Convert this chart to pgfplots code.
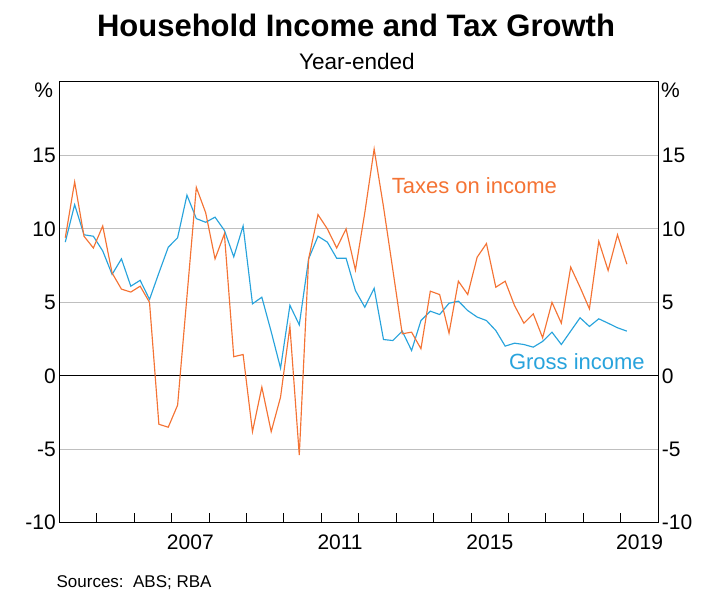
\documentclass[border=0pt]{standalone}
\usepackage{pgfplots}
\pgfplotsset{compat=1.18}
\usepackage{pgfplotstable}
\usepackage{fontspec}
\setmainfont{Liberation Sans}
\definecolor{rbaorange}{RGB}{244,115,52}
\definecolor{rbablue}{RGB}{40,163,220}
\newcommand{\tfont}{\fontsize{21}{21}\selectfont}

\pgfplotstableread{
x gross tax
2004.16 9.1 9.4
2004.41 11.65 13.2
2004.66 9.6 9.5
2004.91 9.5 8.7
2005.16 8.5 10.2
2005.41 6.9 7.0
2005.66 7.96 5.9
2005.91 6.1 5.7
2006.16 6.5 6.1
2006.41 5.2 5.0
2006.66 7.0 -3.3
2006.91 8.75 -3.5
2007.16 9.4 -2.0
2007.41 12.3 5.4
2007.66 10.7 12.83
2007.91 10.45 11.1
2008.16 10.8 7.96
2008.41 9.9 9.66
2008.66 8.1 1.3
2008.91 10.2 1.45
2009.16 4.9 -3.8
2009.41 5.35 -0.77
2009.66 3.0 -3.8
2009.91 0.52 -1.45
2010.16 4.8 3.36
2010.41 3.47 -5.4
2010.66 7.96 7.96
2010.91 9.5 10.97
2011.16 9.1 10.0
2011.41 8.0 8.7
2011.66 8.0 10.0
2011.91 5.8 7.2
2012.16 4.67 11.1
2012.41 5.96 15.44
2012.66 2.47 11.5
2012.91 2.4 7.2
2013.16 3.04 2.86
2013.41 1.72 2.97
2013.66 3.76 1.84
2013.91 4.4 5.76
2014.16 4.17 5.53
2014.41 4.94 2.9
2014.66 5.08 6.44
2014.91 4.44 5.53
2015.16 4.0 8.07
2015.41 3.76 9.0
2015.66 3.08 6.03
2015.91 2.02 6.44
2016.16 2.22 4.78
2016.41 2.13 3.58
2016.66 1.95 4.22
2016.91 2.34 2.59
2017.16 2.97 5.0
2017.41 2.13 3.58
2017.66 3.04 7.4
2017.91 3.95 6.03
2018.16 3.36 4.56
2018.41 3.88 9.16
2018.66 3.58 7.17
2018.91 3.27 9.6
2019.16 3.04 7.6
}\data

\begin{document}
\begin{tikzpicture}[x=1pt,y=1pt]
\path[use as bounding box] (0,0) rectangle (707,605);
\node[anchor=base, inner sep=0, font=\fontsize{31}{31}\selectfont\bfseries] at (356,568) {Household Income and Tax Growth};
\node[anchor=base, inner sep=0, font=\fontsize{22.5}{22.5}\selectfont] at (357,535) {Year-ended};
\node[anchor=base west, inner sep=0, font=\fontsize{17}{17}\selectfont] at (56.4,17.7) {Sources:\ \ ABS; RBA};
\node[anchor=north east, font=\tfont, inner sep=0] at (53.3,522) {\%};
\node[anchor=north west, font=\tfont, inner sep=0] at (661,522) {\%};

\begin{axis}[
  at={(59.3pt,82.3pt)}, anchor=south west,
  width=599pt, height=440.7pt, scale only axis,
  xmin=2004, xmax=2020, ymin=-10, ymax=20,
  axis line style={line width=1pt},
  xtick={2005,...,2019}, xticklabels={},
  xtick pos=left,
  tick align=inside,
  major tick length=9.5pt,
  xtick style={line width=1pt, black},
  ytick={-10,-5,5,10,15},
  yticklabels={-10,-5,5,10,15},
  ytick style={draw=none},
  ymajorgrids, grid style={line width=0.9pt, black!25},
  extra y ticks={0}, extra y tick labels={0},
  extra y tick style={grid style={black, line width=1pt}, major tick length=0pt},
  extra x ticks={2007.5,2011.5,2015.5,2019.5},
  extra x tick labels={2007,2011,2015,2019},
  extra x tick style={major tick length=0pt, tick label style={yshift=-9pt}},
  tick label style={font=\tfont},
  yticklabel pos=left,
]
\addplot[rbablue, line width=1.15pt] table[x=x,y=gross] {\data};
\addplot[rbaorange, line width=1.15pt] table[x=x,y=tax] {\data};
\node[anchor=base west, inner sep=0, text=rbaorange, font=\fontsize{22}{22}\selectfont] at (axis cs:2012.876,12.4) {Taxes on income};
\node[anchor=base west, inner sep=0, text=rbablue, font=\fontsize{22}{22}\selectfont] at (axis cs:2016.008,0.456) {Gross income};
\end{axis}

\begin{axis}[
  at={(59.3pt,82.3pt)}, anchor=south west,
  width=599pt, height=440.7pt, scale only axis,
  xmin=2004, xmax=2020, ymin=-10, ymax=20,
  hide x axis,
  axis y line*=right,
  axis line style={line width=1pt},
  ytick={-10,-5,0,5,10,15},
  yticklabels={-10,-5,0,5,10,15},
  ytick style={draw=none},
  yticklabel pos=right,
  tick label style={font=\tfont},
]
\addplot[draw=none] coordinates {(2004,0)};
\end{axis}
\end{tikzpicture}
\end{document}
